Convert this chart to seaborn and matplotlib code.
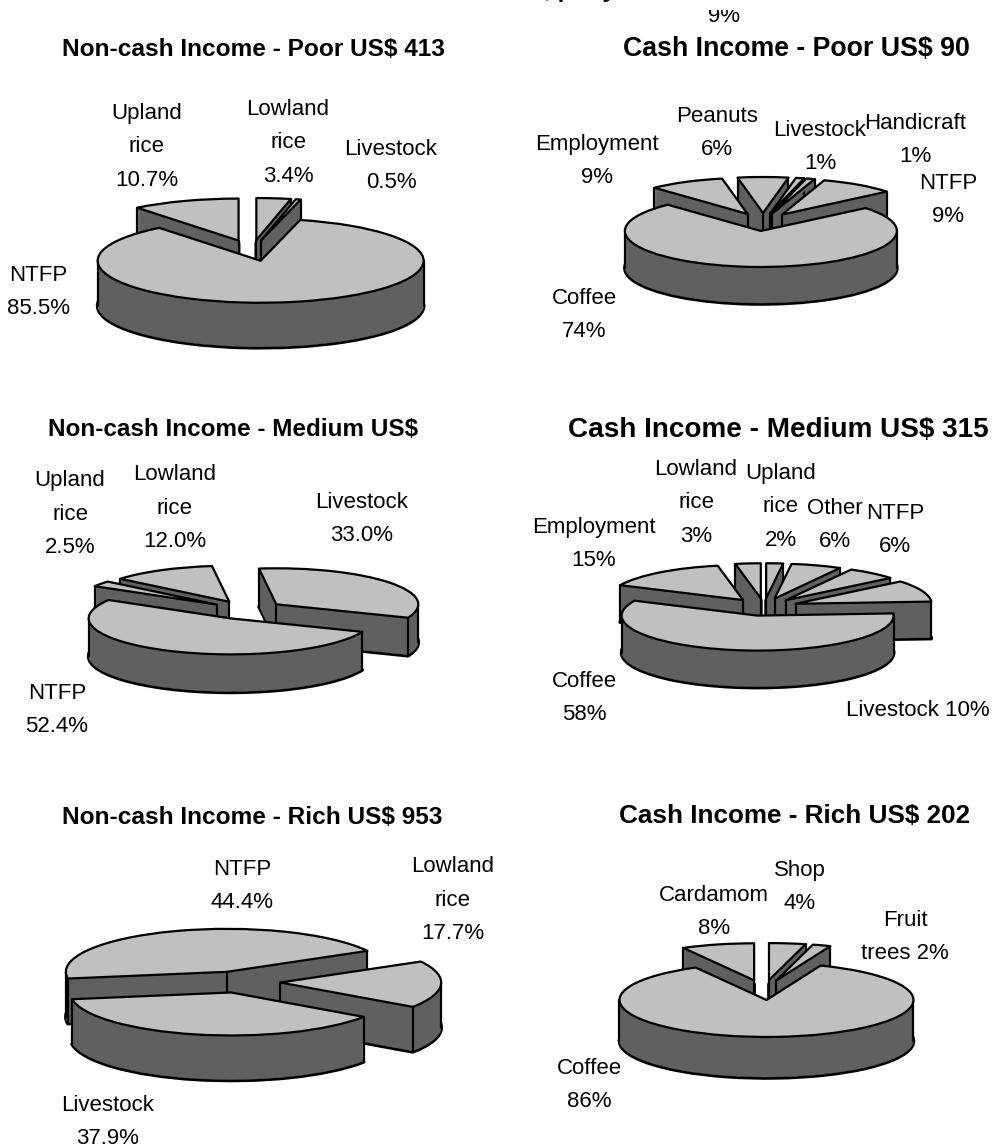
import matplotlib
matplotlib.use("Agg")
import matplotlib.pyplot as plt
import numpy as np
import seaborn as sns
from matplotlib.transforms import Bbox, TransformedBbox

# values, clockwise from the first slice
poor_noncash = [3.4, 0.5, 85.5, 10.7]
poor_cash = [6, 1, 1, 9, 74, 9]
medium_noncash = [33.0, 52.4, 2.5, 12.0]
medium_cash = [2, 6, 6, 10, 58, 15, 3]
rich_noncash = [44.4, 17.7, 37.9]
rich_cash = [4, 2, 86, 8]

titles = [
    "Non-cash Income - Poor US$ 413", "Cash Income - Poor US$ 90",
    "Non-cash Income - Medium US$", "Cash Income - Medium US$ 315",
    "Non-cash Income - Rich US$ 953", "Cash Income - Rich US$ 202",
]
# x, y, font size of each title
title_pos = [(253, 49, 17.6), (796, 49, 19.3), (233, 430, 17.5),
             (778, 430, 20.1), (252, 818, 17.6), (795, 816, 18.8)]

# pixel layout: cx, cy, rx, ry, depth, first slice angle (clockwise from top), explode
pie_geom = [
    (poor_noncash, 252, 250.5, 163, 42, 45, 0, 0.25),
    (poor_cash, 763, 222, 136, 36, 37, -10.8, 0.25),
    (medium_noncash, 247, 610, 142, 36, 38, -7, 0.26),
    (medium_cash, 764, 607, 136, 35, 37, 0, 0.25),
    (rich_noncash, 240, 982, 161, 43, 45, -99, 0.25),
    (rich_cash, 764, 990, 147, 37, 41, 0, 0.27),
]

# label text, x, y of the block centre
labels = [
    ("Upland\nrice\n10.7%", 147, 147), ("Lowland\nrice\n3.4%", 288, 143),
    ("Livestock\n0.5%", 391, 166), ("NTFP\n85.5%", 38, 292),
    ("Employment\n9%", 597, 161), ("Peanuts\n6%", 717, 133),
    ("Handicraft\n1%", 915, 140), ("NTFP\n9%", 948, 200), ("Coffee\n74%", 584, 315),
    ("Upland\nrice\n2.5%", 70, 514), ("Lowland\nrice\n12.0%", 175, 508),
    ("Livestock\n33.0%", 362, 519), ("NTFP\n52.4%", 57, 710),
    ("Lowland\nrice\n3%", 696, 503), ("Upland\nrice\n2%", 781, 507),
    ("Other\n6%", 835, 525), ("NTFP\n6%", 895, 530), ("Employment\n15%", 594, 544),
    ("Coffee\n58%", 584, 698), ("Livestock 10%", 918, 710),
    ("NTFP\n44.4%", 242, 886), ("Lowland\nrice\n17.7%", 453, 900),
    ("Livestock\n37.9%", 108, 1122), ("Shop\n4%", 800, 887),
    ("Cardamom\n8%", 714, 912), ("Fruit\ntrees 2%", 905, 937), ("Coffee\n86%", 589, 1085),
]
clipped_labels = [("Livestock\n1%", 820, 147, 100, 170), ("9%", 724, 17, 10, 40)]

top_color = "#C0C0C0"
side_color = "#606060"

sns.set_theme(style="white")
plt.rcParams["font.family"] = ["Liberation Sans", "DejaVu Sans"]

fig = plt.figure(figsize=(9.92, 11.48), dpi=100)


def covers(w, x, y):
    # is the point on this wedge's top face
    dx, dy = x - w.center[0], y - w.center[1]
    if np.hypot(dx, dy) >= w.r:
        return False
    a = np.degrees(np.arctan2(dy, dx))
    return any(w.theta1 <= a + k <= w.theta2 for k in (-720, -360, 0, 360, 720))


def draw_pie(values, cx, cy, rx, ry, depth, first_angle, explode):
    # whole figure axes, so 1 data unit is rx by ry pixels around the pie centre
    ax = fig.add_axes([0, 0, 1, 1])
    start = 90 - first_angle
    ex = [explode] * len(values)
    for d in range(depth, -1, -1):
        wedges = ax.pie(values, explode=ex, startangle=start, counterclock=False,
                        center=(0, -d / ry), radius=1)[0]
        for w in wedges:
            mid = np.radians((w.theta1 + w.theta2) / 2)
            rank = -(w.center[1] + d / ry + 0.5 * np.sin(mid))
            z = 10 + rank * 100
            w.set_joinstyle("round")
            if d == depth:
                w.set(facecolor=side_color, edgecolor="black", linewidth=2.6, zorder=z)
            elif d == 0:
                w.set(facecolor=top_color, edgecolor="black", linewidth=1.6, zorder=z + 2)
            else:
                w.set(facecolor=side_color, edgecolor=side_color, linewidth=0.3,
                      zorder=z + (depth - d) * 0.01)
    # vertical edges of the walls, under each slice's own top
    for w in wedges:
        mid = np.radians((w.theta1 + w.theta2) / 2)
        z = 10 - (w.center[1] + 0.5 * np.sin(mid)) * 100 + 1.5
        pts = [(w.center[0], w.center[1])]
        angles = [w.theta1, w.theta2] + [a for a in range(-720, 721, 180) if w.theta1 < a < w.theta2]
        for a in angles:
            pts.append((w.center[0] + np.cos(np.radians(a)), w.center[1] + np.sin(np.radians(a))))
        for x, y in pts:
            if covers(w, x, y - 0.03):
                continue
            ax.plot([x, x], [y, y - depth / ry], color="black", lw=1.6, zorder=z, solid_capstyle="round")
    ax.set_aspect("auto")
    ax.set_xlim(-cx / rx, (992 - cx) / rx)
    ax.set_ylim((cy - 1148) / ry, cy / ry)
    ax.set_axis_off()


for g in pie_geom:
    draw_pie(*g)

# text goes on one overlay in pixel coordinates
txt = fig.add_axes([0, 0, 1, 1], zorder=50)
txt.set_xlim(0, 992)
txt.set_ylim(1148, 0)
txt.set_axis_off()

for t, (x, y, size) in zip(titles, title_pos):
    txt.text(x, y, t, ha="center", va="center", fontsize=size, fontweight="bold", color="black")
for t, x, y in labels:
    txt.text(x, y, t, ha="center", va="center", multialignment="center", fontsize=16,
             linespacing=1.78, color="black")
for t, x, y, y0, y1 in clipped_labels:
    s = txt.text(x, y, t, ha="center", va="center", multialignment="center", fontsize=16,
                 linespacing=1.78, color="black")
    s.set_clip_box(TransformedBbox(Bbox([[0, y0], [992, y1]]), txt.transData))
    s.set_clip_on(True)

# heading of the page, only its descenders are left at the top edge
txt.text(598, -3, ", per year", ha="center", va="baseline", fontsize=17.6, fontweight="bold",
         color="black", clip_on=False)

fig.savefig("out.png", dpi=100)
